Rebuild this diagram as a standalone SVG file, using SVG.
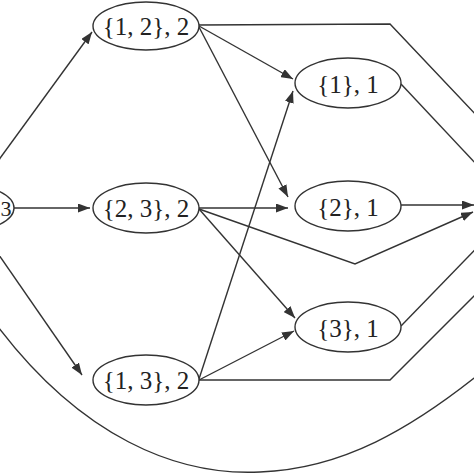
<svg xmlns="http://www.w3.org/2000/svg" width="474" height="474" viewBox="0 0 474 474">
<style>
.node ellipse{fill:#fff;stroke:#333;stroke-width:1.4}
.node text{font-family:"Liberation Serif","Times New Roman",serif;font-size:25px;fill:#222;text-anchor:middle}
#edges path,#edges line{fill:none;stroke:#333;stroke-width:1.4}
</style>
<defs>
<marker id="ah" markerUnits="userSpaceOnUse" markerWidth="13" markerHeight="9" refX="12" refY="4.5" orient="auto">
<path d="M0,0 L12,4.5 L0,9 z" fill="#333"/>
</marker>
</defs>
<rect width="474" height="474" fill="#fff"/>
<g id="edges">
<line x1="-10" y1="172" x2="92" y2="32" marker-end="url(#ah)"/>
<line x1="14" y1="208" x2="90" y2="208" marker-end="url(#ah)"/>
<line x1="-10" y1="242" x2="82" y2="375" marker-end="url(#ah)"/>
<path d="M -10,316 C 80,440 180,476 260,472 C 340,469 410,432 494,362" marker-end="url(#ah)"/>
<path d="M 199,25 L 390,24 L 494,134" marker-end="url(#ah)"/>
<line x1="199" y1="26" x2="293" y2="79" marker-end="url(#ah)"/>
<line x1="199" y1="27" x2="288" y2="197" marker-end="url(#ah)"/>
<line x1="199" y1="208" x2="288" y2="208" marker-end="url(#ah)"/>
<path d="M 199,209 L 355,264 L 473,212" marker-end="url(#ah)"/>
<line x1="199" y1="209" x2="295" y2="318" marker-end="url(#ah)"/>
<line x1="199" y1="379" x2="293" y2="91" marker-end="url(#ah)"/>
<line x1="199" y1="380" x2="294" y2="331" marker-end="url(#ah)"/>
<path d="M 199,380 L 390,380 L 494,276" marker-end="url(#ah)"/>
<line x1="401" y1="84" x2="494" y2="183" marker-end="url(#ah)"/>
<line x1="401" y1="205" x2="474" y2="205" marker-end="url(#ah)"/>
<line x1="401" y1="326" x2="494" y2="230" marker-end="url(#ah)"/>
</g>
<g id="n0" class="node"><ellipse cx="-39" cy="208" rx="53" ry="24"/><text x="0.5" y="216" style="text-anchor:start;font-size:22px">3</text></g>
<g id="n12" class="node"><ellipse cx="146" cy="26" rx="53" ry="24"/><text x="146" y="35">{1, 2}, 2</text></g>
<g id="n23" class="node"><ellipse cx="146" cy="208" rx="53" ry="25"/><text x="146" y="217">{2, 3}, 2</text></g>
<g id="n13" class="node"><ellipse cx="146" cy="380" rx="53" ry="25"/><text x="146" y="389">{1, 3}, 2</text></g>
<g id="n1" class="node"><ellipse cx="348" cy="83" rx="53" ry="25"/><text x="348" y="93">{1}, 1</text></g>
<g id="n2" class="node"><ellipse cx="348" cy="206" rx="53" ry="25"/><text x="348" y="216">{2}, 1</text></g>
<g id="n3" class="node"><ellipse cx="348" cy="327" rx="53" ry="25"/><text x="348" y="337">{3}, 1</text></g>
</svg>
